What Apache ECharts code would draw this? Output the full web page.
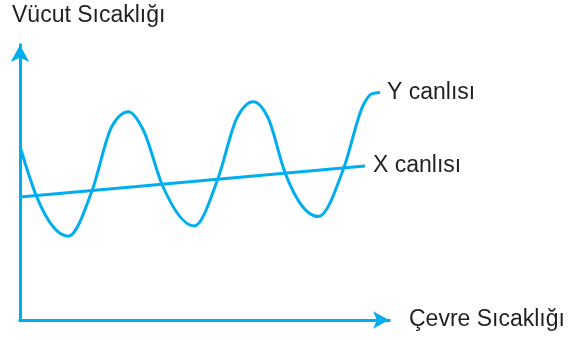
<!DOCTYPE html>
<html>
<head>
    <meta http-equiv="Content-Type" content="text/html; charset=utf-8" />
    <title></title>
    <script src="https://cdn.jsdelivr.net/npm/echarts@6/dist/echarts.min.js"></script>
</head>
<body style="margin:0;background:#fff;">
    <div id="main" style="width: 571px;height:340px;"></div>
</body>
<script type="text/javascript">
    // values (arbitrary units, 0-100 on both axes)
    // Y canlısı: start, crossings with X line, lows/highs (with shoulders), end hook
    var yCanlisiX = [0, 4.53, 13.09, 19.59, 24.85, 29.35, 33.41, 38.56, 47.24, 53.58, 58.73, 63.22, 67.29, 71.82, 80.84, 87.8, 93.04, 95.31, 97.56];
    var yCanlisiY = [63.1, 44.8, 30.5, 47.3, 70.3, 75.7, 69.1, 49.1, 34.2, 51.2, 73.3, 79.4, 73.3, 53.6, 37.6, 55.5, 78.2, 82.2, 82.7];
    var xCanlisiX = [0, 93.5];
    var xCanlisiY = [44.7, 56.0];
    var seriesNames = ['Y canlısı', 'X canlısı'];
    var axisNames = ['Çevre Sıcaklığı', 'Vücut Sıcaklığı'];

    var blue = '#00aeef';
    var ink = '#231f20';
    var font = "'Liberation Sans', Arial, sans-serif";

    function pairs(xs, ys) {
        return xs.map(function (x, i) { return [x, ys[i]]; });
    }

    // monotone cubic (like d3 curveMonotoneX) through the projected points
    function monotonePath(pts) {
        var n = pts.length, h = [], s = [], m = [], i;
        for (i = 0; i < n - 1; i++) {
            h[i] = pts[i + 1][0] - pts[i][0];
            s[i] = (pts[i + 1][1] - pts[i][1]) / h[i];
        }
        for (i = 1; i < n - 1; i++) {
            var p = (s[i - 1] * h[i] + s[i] * h[i - 1]) / (h[i - 1] + h[i]);
            m[i] = (Math.sign(s[i - 1]) + Math.sign(s[i])) *
                Math.min(Math.abs(s[i - 1]), Math.abs(s[i]), 0.5 * Math.abs(p)) || 0;
        }
        m[0] = (3 * s[0] - m[1]) / 2;
        m[n - 1] = (3 * s[n - 2] - m[n - 2]) / 2;
        var d = 'M' + pts[0][0] + ' ' + pts[0][1];
        for (i = 0; i < n - 1; i++) {
            var dx = h[i] / 3;
            d += ' C' + (pts[i][0] + dx) + ' ' + (pts[i][1] + dx * m[i]) +
                ' ' + (pts[i + 1][0] - dx) + ' ' + (pts[i + 1][1] - dx * m[i + 1]) +
                ' ' + pts[i + 1][0] + ' ' + pts[i + 1][1];
        }
        return d;
    }

    var yData = pairs(yCanlisiX, yCanlisiY);

    var myChart = echarts.init(document.getElementById('main'));
    var option = {
        animation: false,
        backgroundColor: '#fff',
        grid: { left: 20, right: 182, top: 45, bottom: 20 },
        xAxis: {
            type: 'value', min: 0, max: 100,
            name: axisNames[0],
            nameLocation: 'end',
            nameGap: 20,
            nameTextStyle: { color: ink, fontSize: 23, fontFamily: font, verticalAlign: 'middle', padding: [0, 0, 8, 0] },
            axisLine: {
                show: true, onZero: false,
                symbol: ['none', 'arrow'], symbolSize: [13, 16],
                lineStyle: { color: blue, width: 3, cap: 'square' }
            },
            axisTick: { show: false }, axisLabel: { show: false }, splitLine: { show: false }
        },
        yAxis: {
            type: 'value', min: 0, max: 100,
            axisLine: {
                show: true, onZero: false,
                symbol: ['none', 'arrow'], symbolSize: [14, 17],
                lineStyle: { color: blue, width: 3, cap: 'square' }
            },
            axisTick: { show: false }, axisLabel: { show: false }, splitLine: { show: false }
        },
        graphic: [{
            type: 'text', left: 12, top: 4,
            style: { text: axisNames[1], fill: ink, fontSize: 23, fontFamily: font }
        }],
        series: [
            {
                name: seriesNames[0], type: 'custom', coordinateSystem: 'cartesian2d',
                data: yData, clip: false,
                renderItem: function (params, api) {
                    if (params.dataIndex !== 0) return;
                    var pts = yData.map(function (p) { return api.coord(p); });
                    var last = pts[pts.length - 1];
                    return {
                        type: 'group',
                        children: [{
                            type: 'path',
                            shape: { pathData: monotonePath(pts) },
                            style: { stroke: blue, lineWidth: 3, fill: 'none' }
                        }, {
                            type: 'text', x: last[0] + 7, y: last[1],
                            style: { text: seriesNames[0], fill: ink, fontSize: 23, fontFamily: font, verticalAlign: 'middle' }
                        }]
                    };
                }
            },
            {
                name: seriesNames[1], type: 'line',
                symbol: 'none', data: pairs(xCanlisiX, xCanlisiY),
                lineStyle: { color: blue, width: 3 },
                endLabel: { show: true, formatter: '{a}', distance: 8, color: ink, fontSize: 23, fontFamily: font }
            }
        ]
    };
    myChart.setOption(option);
</script>
</html>
